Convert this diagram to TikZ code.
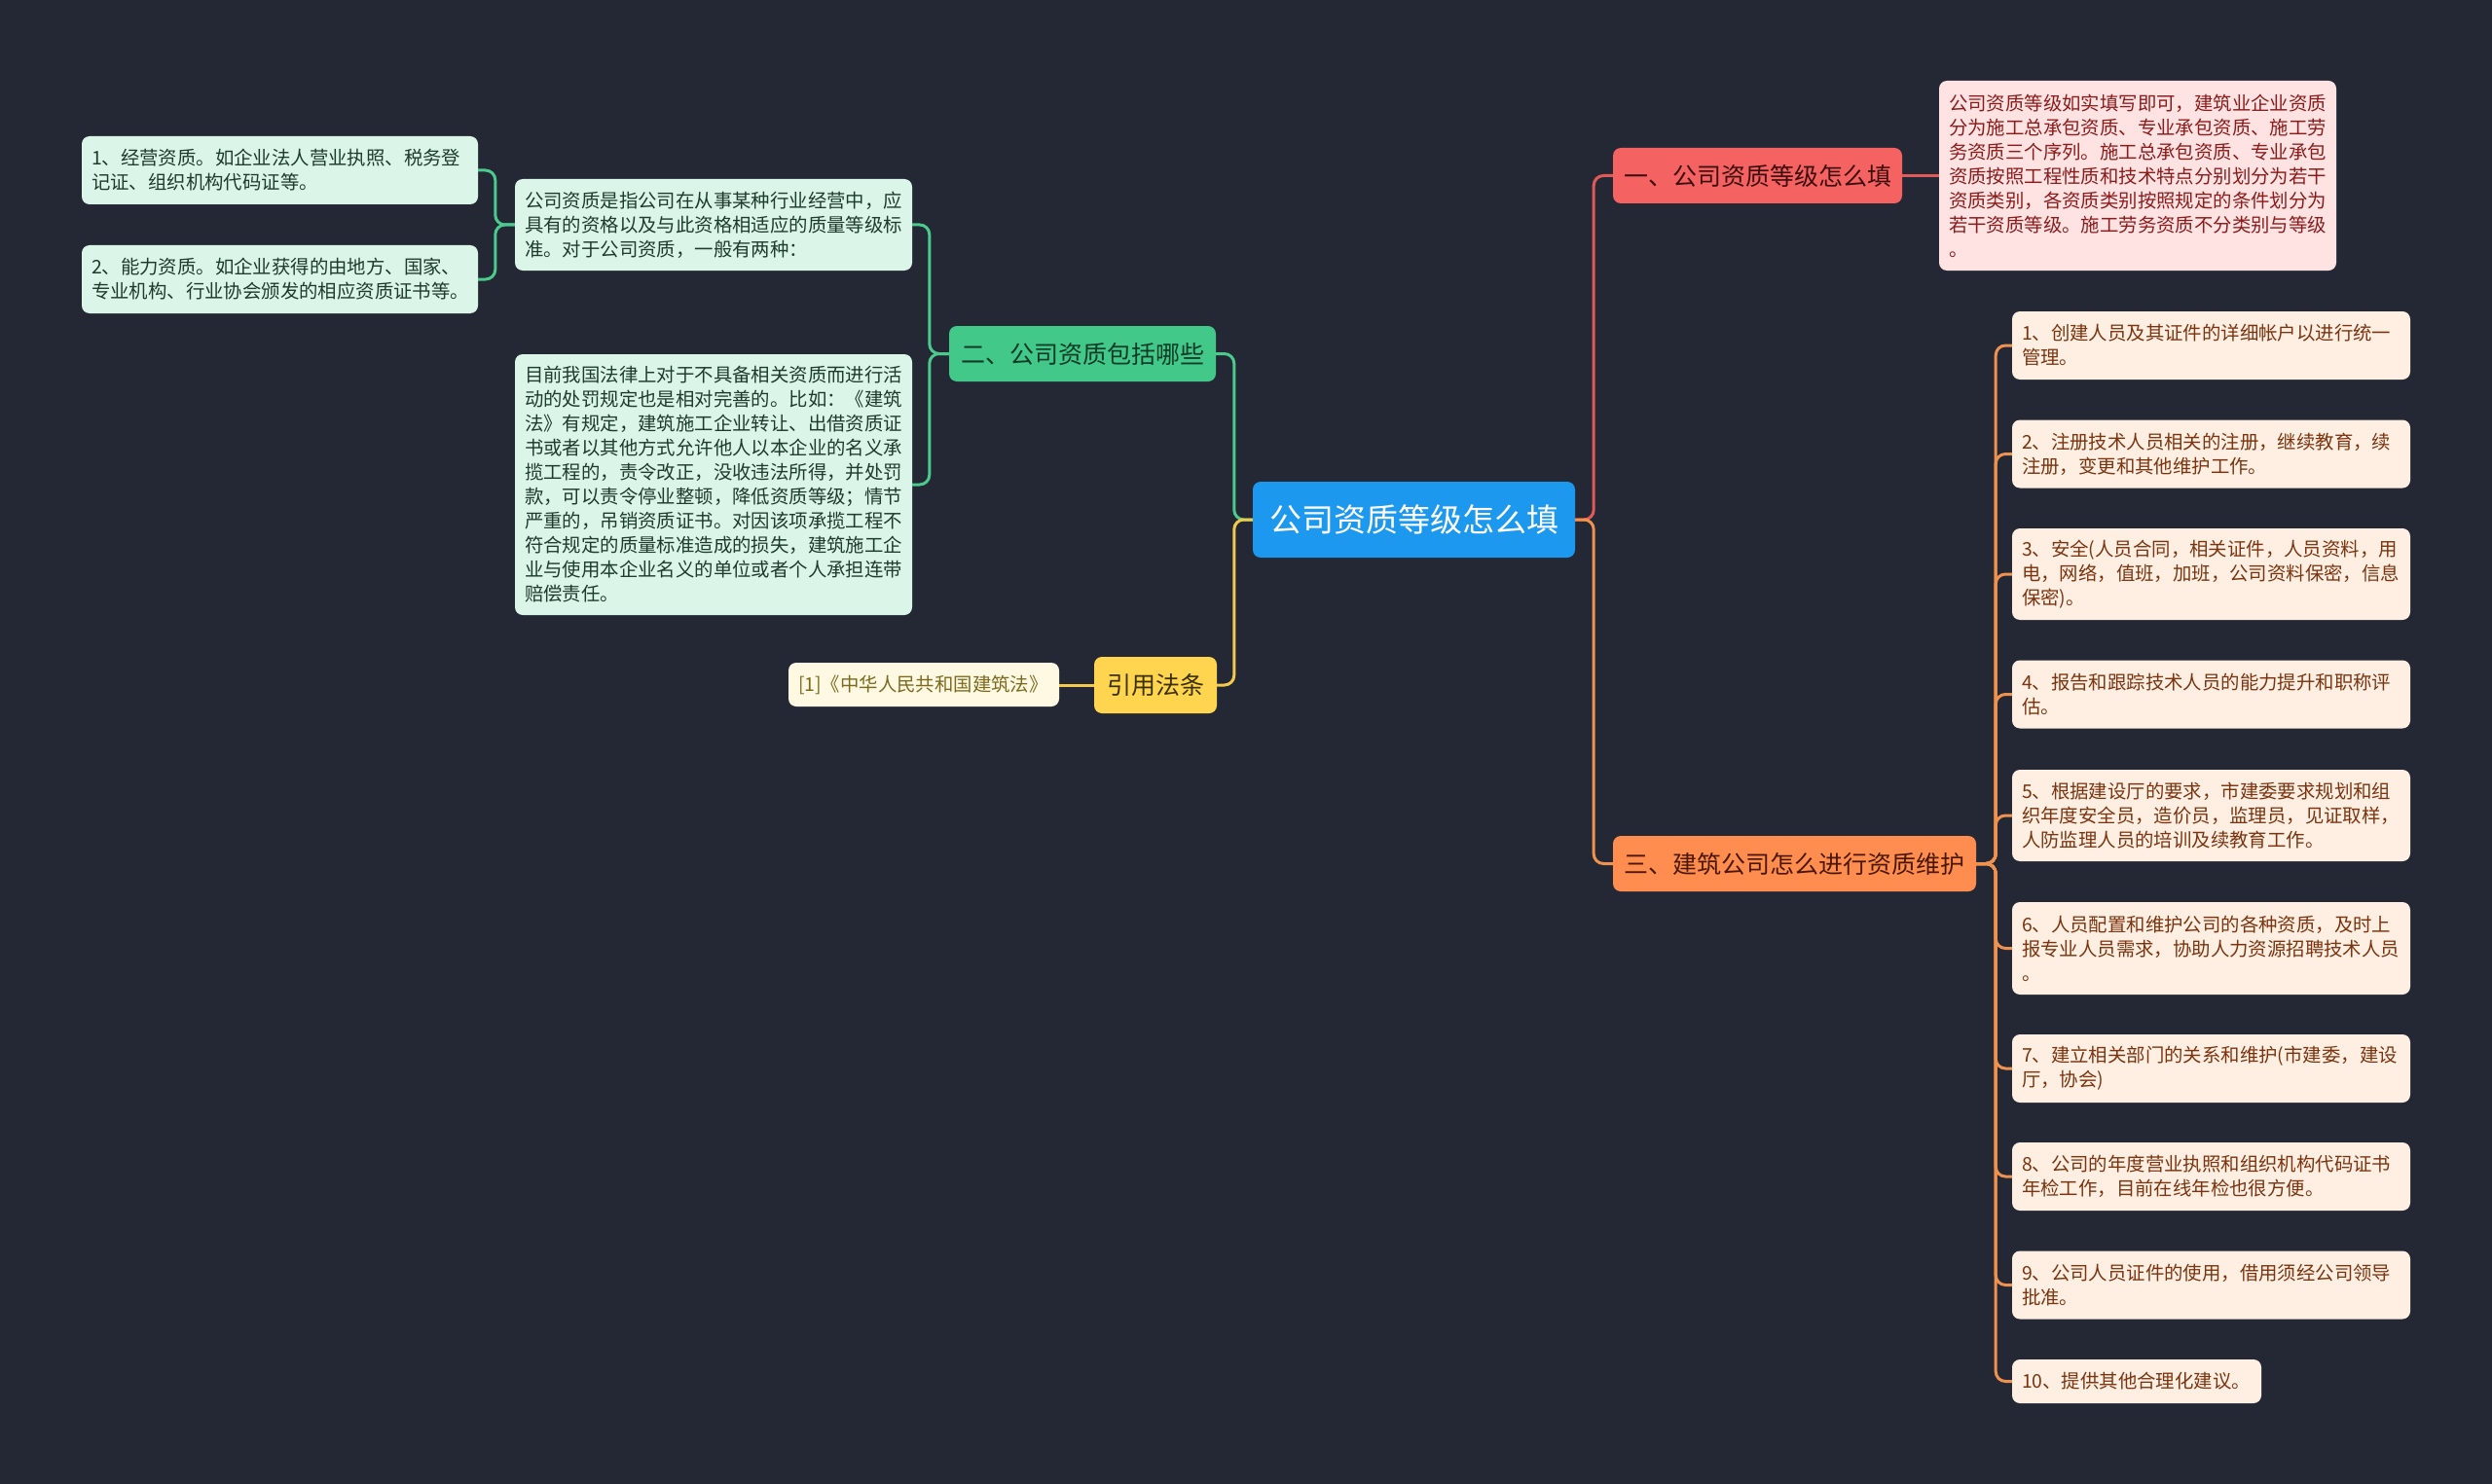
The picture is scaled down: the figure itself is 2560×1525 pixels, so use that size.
\documentclass[tikz,border=0pt]{standalone}
\usepackage{fontspec}
\newfontfamily\cjk{Noto Sans CJK SC}
\definecolor{bg}{HTML}{232834}
\definecolor{cblue}{HTML}{1C98EE}
\definecolor{rnode}{HTML}{F56262}
\definecolor{rtext}{HTML}{3D0E0E}
\definecolor{pinkbox}{HTML}{FFE3E3}
\definecolor{pinktext}{HTML}{8B1C1C}
\definecolor{gnode}{HTML}{42C98A}
\definecolor{gtext}{HTML}{0E3B25}
\definecolor{mintbox}{HTML}{DCF5E9}
\definecolor{minttext}{HTML}{1F3B2D}
\definecolor{ynode}{HTML}{FFD54F}
\definecolor{ytext}{HTML}{3B3000}
\definecolor{creambox}{HTML}{FFF9E3}
\definecolor{creamtext}{HTML}{7B6A1E}
\definecolor{onode}{HTML}{FF8D50}
\definecolor{otext}{HTML}{4A1800}
\definecolor{peachbox}{HTML}{FFEEE2}
\definecolor{peachtext}{HTML}{7A3510}
\definecolor{rline}{HTML}{E05A5A}
\definecolor{oline}{HTML}{F0924F}
\definecolor{gline}{HTML}{4CC98C}
\definecolor{yline}{HTML}{F2C94C}
\tikzset{
  boxbase/.style={inner ysep=0pt, rounded corners=8pt},
  topic/.style={boxbase, inner xsep=0pt, align=center, font={\cjk\fontsize{25pt}{30pt}\selectfont}},
  tbox/.style={boxbase, inner xsep=10pt, align=left, font={\cjk\fontsize{19.4pt}{25pt}\selectfont}},
  link/.style={line width=3pt, rounded corners=10pt},
}
\begin{document}
\begin{tikzpicture}[x=1pt,y=-1pt]
\useasboundingbox (0,0) rectangle (2560,1525);
\fill[bg] (0,0) rectangle (2560,1525);

% central
\node[boxbase, fill=cblue, text=white, font={\cjk\fontsize{33pt}{38pt}\selectfont},
  minimum width=331pt, minimum height=78pt] (c) at (1452.5,534) {公司资质等级怎么填};

% level 1
\node[topic, fill=rnode, text=rtext, minimum width=297pt, minimum height=57pt] (yi) at (1805.5,180.5) {一、公司资质等级怎么填};
\node[topic, fill=onode, text=otext, minimum width=373pt, minimum height=57pt] (san) at (1843.5,887.5) {三、建筑公司怎么进行资质维护};
\node[topic, fill=gnode, text=gtext, minimum width=274pt, minimum height=57pt] (er) at (1112,363.5) {二、公司资质包括哪些};
\node[topic, fill=ynode, text=ytext, minimum width=126pt, minimum height=58pt] (yin) at (1187,704) {引用法条};

% 一 child
\node[tbox, fill=pinkbox, text=pinktext, text width=388pt, minimum height=195pt] (yit) at (2196,180.5)
{公司资质等级如实填写即可，建筑业企业资质\\分为施工总承包资质、专业承包资质、施工劳\\务资质三个序列。施工总承包资质、专业承包\\资质按照工程性质和技术特点分别划分为若干\\资质类别，各资质类别按照规定的条件划分为\\若干资质等级。施工劳务资质不分类别与等级\\。};

% 二 children
\node[tbox, fill=mintbox, text=minttext, text width=388pt, minimum height=94pt] (A) at (733,231)
{公司资质是指公司在从事某种行业经营中，应\\具有的资格以及与此资格相适应的质量等级标\\准。对于公司资质，一般有两种：};
\node[tbox, fill=mintbox, text=minttext, text width=388pt, minimum height=268pt] (B) at (733,498)
{目前我国法律上对于不具备相关资质而进行活\\动的处罚规定也是相对完善的。比如：《建筑\\法》有规定，建筑施工企业转让、出借资质证\\书或者以其他方式允许他人以本企业的名义承\\揽工程的，责令改正，没收违法所得，并处罚\\款，可以责令停业整顿，降低资质等级；情节\\严重的，吊销资质证书。对因该项承揽工程不\\符合规定的质量标准造成的损失，建筑施工企\\业与使用本企业名义的单位或者个人承担连带\\赔偿责任。};
\node[tbox, fill=mintbox, text=minttext, text width=387pt, minimum height=70pt] (L1) at (287.5,175)
{1、经营资质。如企业法人营业执照、税务登\\记证、组织机构代码证等。};
\node[tbox, fill=mintbox, text=minttext, text width=387pt, minimum height=70pt] (L2) at (287.5,287)
{2、能力资质。如企业获得的由地方、国家、\\专业机构、行业协会颁发的相应资质证书等。};

% 引用 child
\node[tbox, fill=creambox, text=creamtext, text width=258pt, minimum height=45pt] (cite) at (949,703.5)
{[1]《中华人民共和国建筑法》};

% 三 children
\node[tbox, fill=peachbox, text=peachtext, text width=389pt, minimum height=70pt] (o1) at (2271.5,355)
{1、创建人员及其证件的详细帐户以进行统一\\管理。};
\node[tbox, fill=peachbox, text=peachtext, text width=389pt, minimum height=70pt] (o2) at (2271.5,466.5)
{2、注册技术人员相关的注册，继续教育，续\\注册，变更和其他维护工作。};
\node[tbox, fill=peachbox, text=peachtext, text width=389pt, minimum height=94pt] (o3) at (2271.5,590)
{3、安全(人员合同，相关证件，人员资料，用\\电，网络，值班，加班，公司资料保密，信息\\保密)。};
\node[tbox, fill=peachbox, text=peachtext, text width=389pt, minimum height=70pt] (o4) at (2271.5,713.5)
{4、报告和跟踪技术人员的能力提升和职称评\\估。};
\node[tbox, fill=peachbox, text=peachtext, text width=389pt, minimum height=94pt] (o5) at (2271.5,838)
{5、根据建设厅的要求，市建委要求规划和组\\织年度安全员，造价员，监理员，见证取样，\\人防监理人员的培训及续教育工作。};
\node[tbox, fill=peachbox, text=peachtext, text width=389pt, minimum height=95pt] (o6) at (2271.5,974.5)
{6、人员配置和维护公司的各种资质，及时上\\报专业人员需求，协助人力资源招聘技术人员\\。};
\node[tbox, fill=peachbox, text=peachtext, text width=389pt, minimum height=70pt] (o7) at (2271.5,1098)
{7、建立相关部门的关系和维护(市建委，建设\\厅，协会)};
\node[tbox, fill=peachbox, text=peachtext, text width=389pt, minimum height=70pt] (o8) at (2271.5,1209)
{8、公司的年度营业执照和组织机构代码证书\\年检工作，目前在线年检也很方便。};
\node[tbox, fill=peachbox, text=peachtext, text width=389pt, minimum height=70pt] (o9) at (2271.5,1320.5)
{9、公司人员证件的使用，借用须经公司领导\\批准。};
\node[tbox, fill=peachbox, text=peachtext, text width=236pt, minimum height=45pt] (o10) at (2195,1419.5)
{10、提供其他合理化建议。};

% connectors
\draw[link, rline] (c.east) -- ++(19,0) |- (yi.west);
\draw[link, oline] (c.east) -- ++(19,0) |- (san.west);
\draw[link, rline] (yi.east) -- (yit.west |- yi.east);
\foreach \i in {1,...,10} {
  \draw[link, oline] (san.east) -- ++(20,0) |- (o\i.west);
}
\draw[link, gline] (c.west) -- ++(-19,0) |- (er.east);
\draw[link, yline] (c.west) -- ++(-19,0) |- (yin.east);
\draw[link, gline] (er.west) -- ++(-20,0) |- (A.east);
\draw[link, gline] (er.west) -- ++(-20,0) |- (B.east);
\draw[link, gline] (A.west) -- ++(-20,0) |- (L1.east);
\draw[link, gline] (A.west) -- ++(-20,0) |- (L2.east);
\draw[link, yline] (yin.west) -- (cite.east |- yin.west);
\end{tikzpicture}
\end{document}
